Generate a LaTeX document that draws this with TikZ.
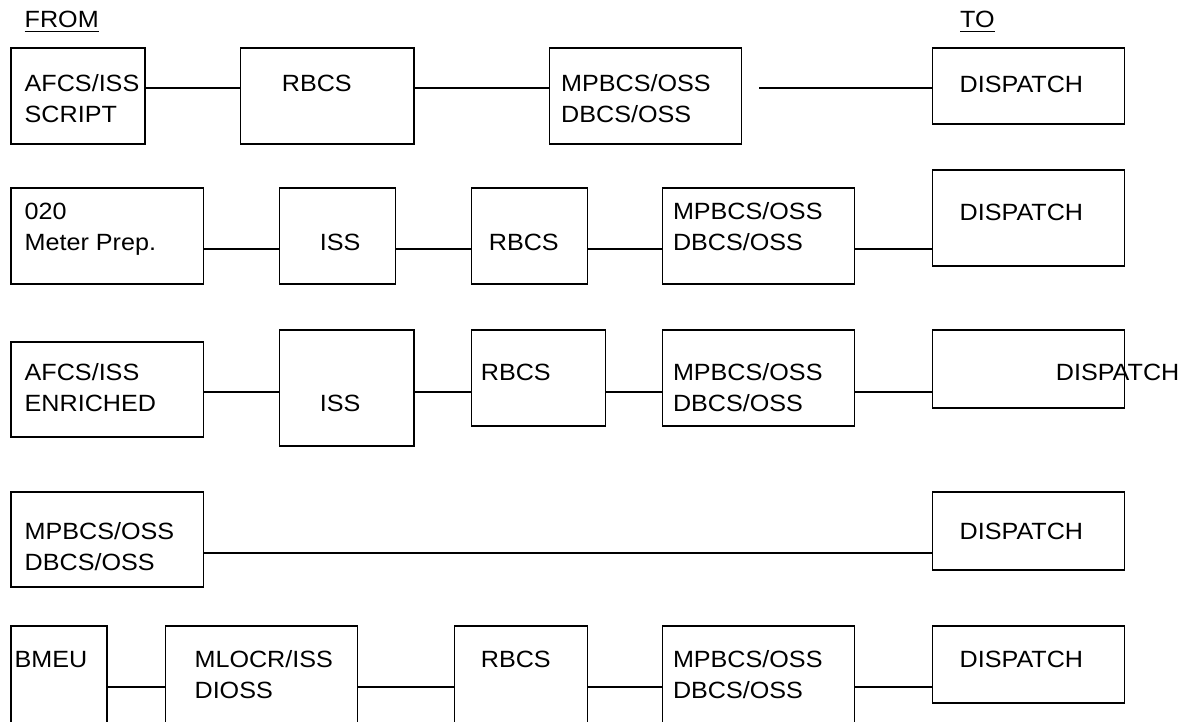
\documentclass[tikz,border=0pt]{standalone}
\usepackage{fontspec}
\setmainfont[FakeStretch=1.07]{Liberation Sans}
\begin{document}
% unit boxes: (name, left, top, right, bottom) in pt, y grows downward
\newcommand\mkbox[5]{\node[stage, minimum width={#4-#2}, minimum height={#5-#3}] (#1) at ({(#2+#4)/2},{(#3+#5)/2}) {};}
\begin{tikzpicture}[x=1pt, y=-1pt,
  stage/.style={draw, line width=1.3pt, inner sep=0pt, outer sep=0pt},
  lbl/.style={anchor=base west, inner sep=0pt, font=\fontsize{23.5}{28}\selectfont},
  wire/.style={line width=1.3pt}]
\clip (0,0) rectangle (1191,721);

% headings
\node[lbl] (from) at (24.5,27.5) {FROM};
\node[lbl] (to) at (960,27.5) {TO};
\draw[line width=1.2pt] ([yshift=-4.2pt]from.base west) -- ([yshift=-4.2pt]from.base east);
\draw[line width=1.2pt] ([yshift=-4.2pt]to.base west) -- ([yshift=-4.2pt]to.base east);

% route 1
\mkbox{a1}{11}{48}{145}{144}
\mkbox{a2}{240.5}{48}{414}{144}
\mkbox{a3}{549.7}{48}{741.8}{144}
\mkbox{a4}{932.7}{48}{1124.8}{124}
\node[lbl] (a1t) at (24.5,91) {AFCS/ISS};
\node[lbl] (a1u) at (24.5,122) {SCRIPT};
\node[lbl] (a2t) at (281.7,91) {RBCS};
\node[lbl] (a3t) at (561,91) {MPBCS/OSS};
\node[lbl] (a3u) at (561,122) {DBCS/OSS};
\node[lbl] (a4t) at (959.5,92) {DISPATCH};
\coordinate (a34) at (759,88);
\draw[wire] (a1.east |- 0,88) -- (a2.west |- 0,88);
\draw[wire] (a2.east |- 0,88) -- (a3.west |- 0,88);
\draw[wire] (a34) -- (a4.west |- 0,88);

% route 2
\mkbox{b1}{11}{188}{203.6}{284}
\mkbox{b2}{279.5}{188}{395.6}{284}
\mkbox{b3}{471.5}{188}{587.7}{284}
\mkbox{b4}{662.5}{188}{854.5}{284}
\mkbox{b5}{932.7}{170}{1124.8}{266}
\node[lbl] (b1t) at (24.5,219) {020};
\node[lbl] (b1u) at (24.5,250) {Meter Prep.};
\node[lbl] (b2t) at (319.7,250) {ISS};
\node[lbl] (b3t) at (488.7,250) {RBCS};
\node[lbl] (b4t) at (672.8,219) {MPBCS/OSS};
\node[lbl] (b4u) at (672.8,250) {DBCS/OSS};
\node[lbl] (b5t) at (959.5,220) {DISPATCH};
\draw[wire] (b1.east |- 0,249) -- (b2.west |- 0,249);
\draw[wire] (b2.east |- 0,249) -- (b3.west |- 0,249);
\draw[wire] (b3.east |- 0,249) -- (b4.west |- 0,249);
\draw[wire] (b4.east |- 0,249) -- (b5.west |- 0,249);

% route 3
\mkbox{c1}{11}{342}{203.6}{437}
\mkbox{c2}{279.5}{330}{414}{446}
\mkbox{c3}{471.5}{330}{605.3}{426}
\mkbox{c4}{662.5}{330}{854.5}{426}
\mkbox{c5}{932.7}{330}{1124.8}{408}
\node[lbl] (c1t) at (24.5,380) {AFCS/ISS};
\node[lbl] (c1u) at (24.5,411) {ENRICHED};
\node[lbl] (c2t) at (319.7,411) {ISS};
\node[lbl] (c3t) at (480.7,380) {RBCS};
\node[lbl] (c4t) at (672.8,380) {MPBCS/OSS};
\node[lbl] (c4u) at (672.8,411) {DBCS/OSS};
\node[lbl] (c5t) at (1055.7,380) {DISPATCH};
\draw[wire] (c1.east |- 0,392) -- (c2.west |- 0,392);
\draw[wire] (c2.east |- 0,392) -- (c3.west |- 0,392);
\draw[wire] (c3.east |- 0,392) -- (c4.west |- 0,392);
\draw[wire] (c4.east |- 0,392) -- (c5.west |- 0,392);

% route 4
\mkbox{d1}{11}{492}{203.6}{587}
\mkbox{d2}{932.7}{492}{1124.8}{570}
\node[lbl] (d1t) at (24.5,539) {MPBCS/OSS};
\node[lbl] (d1u) at (24.5,570) {DBCS/OSS};
\node[lbl] (d2t) at (959.5,539) {DISPATCH};
\draw[wire] (d1.east |- 0,553) -- (d2.west |- 0,553);

% route 5
\mkbox{e1}{11}{626}{107}{745}
\mkbox{e2}{165.6}{626}{357.7}{745}
\mkbox{e3}{454.3}{626}{587.7}{745}
\mkbox{e4}{662.5}{626}{854.5}{745}
\mkbox{e5}{932.7}{626}{1124.8}{703}
\node[lbl] (e1t) at (14.5,667) {BMEU};
\node[lbl] (e2t) at (194.4,667) {MLOCR/ISS};
\node[lbl] (e2u) at (194.4,698) {DIOSS};
\node[lbl] (e3t) at (480.7,667) {RBCS};
\node[lbl] (e4t) at (672.8,667) {MPBCS/OSS};
\node[lbl] (e4u) at (672.8,698) {DBCS/OSS};
\node[lbl] (e5t) at (959.5,667) {DISPATCH};
\draw[wire] (e1.east |- 0,687) -- (e2.west |- 0,687);
\draw[wire] (e2.east |- 0,687) -- (e3.west |- 0,687);
\draw[wire] (e3.east |- 0,687) -- (e4.west |- 0,687);
\draw[wire] (e4.east |- 0,687) -- (e5.west |- 0,687);
\end{tikzpicture}
\end{document}
